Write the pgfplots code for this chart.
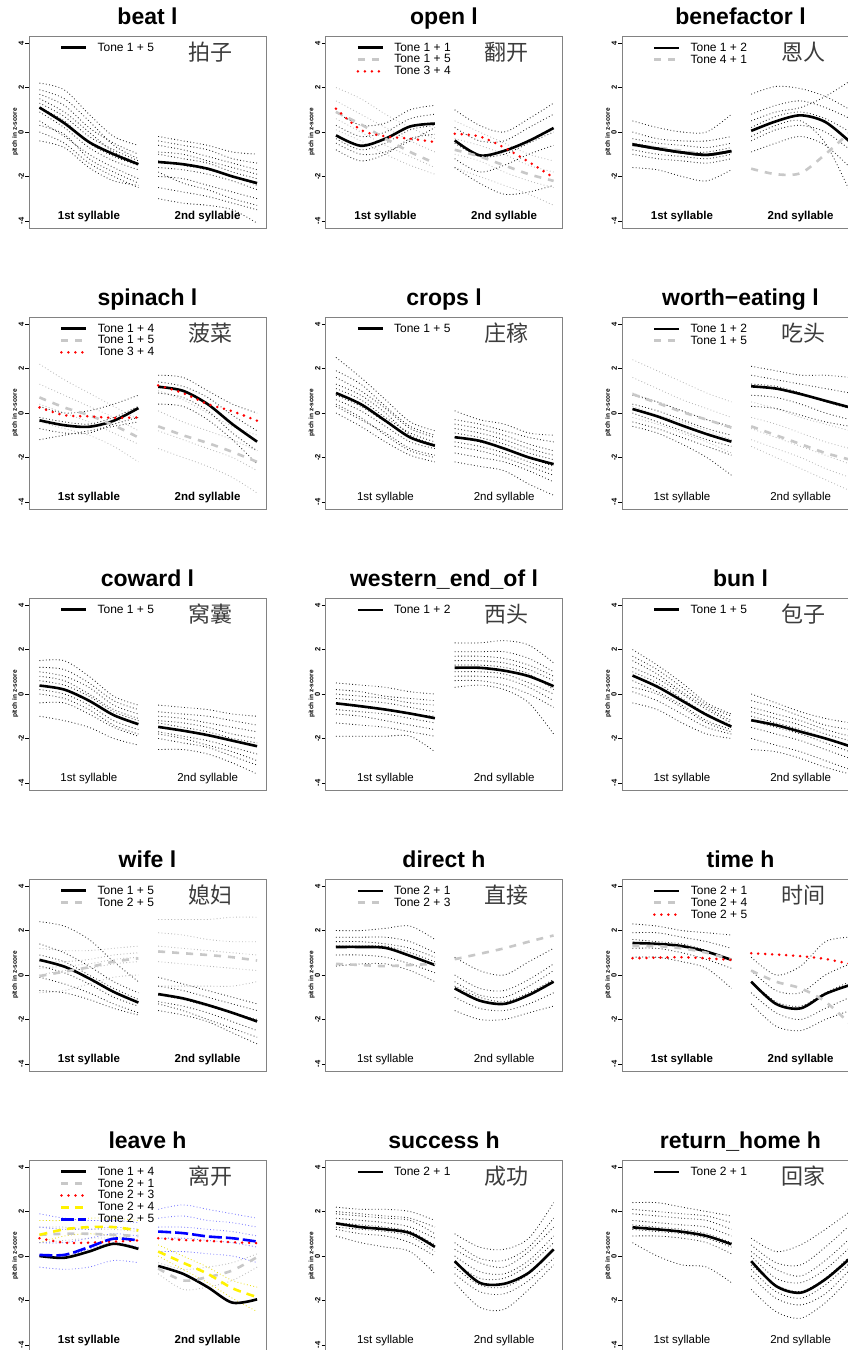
\documentclass[border=0pt]{standalone}
\usepackage{fontspec}
\setmainfont{Liberation Sans}
\newfontfamily\cjk{Noto Sans CJK SC}
\usepackage{pgfplots}
\usepackage{pgfplotstable}
\pgfplotsset{compat=1.18}

\definecolor{lg}{RGB}{200,200,200}
\definecolor{tg}{RGB}{185,185,185}
\definecolor{boxc}{RGB}{130,130,130}
\definecolor{cjkc}{RGB}{60,60,60}

\newcommand\mk[2]{\pgfplotstableread[row sep=\\]{n c1 c2 c3 c4 c5 c6 c7 c8 c9 c10\\ x 0 0.25 0.5 0.75 1 1.2 1.45 1.7 1.95 2.2\\ #2}\tmpT\pgfplotstabletranspose[colnames from=n]{#1}{\tmpT}}

% beat l
\mk{\TA}{a 1.1 0.4 -0.45 -1.0 -1.45 -1.35 -1.45 -1.65 -2.0 -2.3\\
k1 2.2 1.9 0.8 -0.2 -0.6 -0.2 -0.4 -0.6 -0.9 -1.0\\
k2 1.7 1.2 0.2 -0.5 -1.0 -0.6 -0.8 -1.1 -1.4 -1.7\\
k3 1.3 0.7 -0.2 -0.8 -1.3 -1.0 -1.2 -1.4 -1.8 -2.1\\
k4 0.9 0.2 -0.7 -1.3 -1.7 -1.6 -1.7 -1.9 -2.2 -2.6\\
k5 0.5 -0.2 -1.0 -1.6 -2.1 -2.0 -2.1 -2.4 -2.7 -3.0\\
k6 0.0 -0.5 -1.4 -2.0 -2.5 -2.5 -2.7 -2.9 -3.2 -3.5\\
k7 -0.4 -0.7 -1.6 -2.2 -2.4 -3.0 -3.2 -3.3 -3.5 -4.1\\
k8 1.9 1.5 0.5 -0.6 -1.2 -0.4 -0.6 -0.8 -1.2 -1.4\\
k9 1.1 0.5 -0.5 -1.1 -1.5 -1.3 -1.5 -1.7 -2.0 -2.4\\
k10 1.5 0.9 0.0 -0.9 -1.4 -0.9 -1.0 -1.3 -1.6 -1.9\\
k11 0.3 -0.1 -1.2 -1.8 -2.3 -1.8 -2.3 -2.6 -3.0 -3.3\\}
% open l
\mk{\TB}{a -0.15 -0.62 -0.3 0.25 0.38 -0.38 -1.05 -0.85 -0.4 0.18\\
b 0.9 0.35 -0.3 -0.9 -1.4 -0.8 -1.1 -1.5 -1.9 -2.2\\
c 1.05 0.1 -0.2 -0.3 -0.45 -0.08 -0.2 -0.7 -1.35 -2.05\\
k1 0.9 0.3 0.4 1.0 1.2 1.0 0.3 0.0 0.6 1.3\\
k2 0.3 -0.2 0.0 0.6 0.8 0.2 -0.4 -0.4 0.2 0.8\\
k3 -0.3 -0.8 -0.5 0.1 0.3 -0.5 -1.1 -1.0 -0.5 0.0\\
k4 -0.8 -1.3 -1.0 -0.3 -0.1 -1.2 -1.8 -1.5 -1.0 -0.6\\
k5 -0.5 -1.0 -0.9 -0.4 0.2 -1.6 -2.3 -2.8 -2.7 -2.4\\
g1 2.0 1.5 0.8 0.2 -0.3 0.5 0.0 -0.5 -1.0 -1.3\\
g2 1.4 0.8 0.2 -0.4 -0.9 -0.3 -0.6 -1.0 -1.5 -1.8\\
g3 0.6 0.0 -0.6 -1.1 -1.6 -1.0 -1.3 -1.8 -2.2 -2.5\\
g4 0.1 -0.4 -1.0 -1.5 -1.9 -1.6 -2.0 -2.4 -2.8 -3.3\\}
% benefactor l
\mk{\TC}{a -0.56 -0.75 -0.92 -1.03 -0.86 0.05 0.48 0.75 0.45 -0.45\\
b -0.6 -0.7 -0.85 -1.0 -0.9 -1.65 -1.9 -1.85 -1.0 0.0\\
k1 0.5 0.2 0.0 0.0 0.8 1.7 2.05 1.95 1.6 1.0\\
k2 0.0 -0.3 -0.4 -0.4 -0.2 0.8 1.2 1.4 1.1 0.6\\
k3 -0.5 -0.7 -0.9 -0.9 -0.7 0.2 0.7 0.9 0.6 0.0\\
k4 -1.0 -1.2 -1.3 -1.4 -1.2 -0.4 0.1 0.3 0.0 -0.8\\
k5 -1.6 -1.7 -2.0 -2.2 -1.7 -0.9 -0.5 -0.2 -0.6 -1.6\\
k6 -0.3 -0.5 -0.6 -0.7 -0.5 0.5 0.9 1.1 1.6 2.3\\
k7 -0.8 -1.0 -1.1 -1.2 -1.0 -0.2 0.3 0.5 -0.5 -2.7\\}
% spinach l
\mk{\TD}{a -0.33 -0.55 -0.62 -0.35 0.22 1.18 1.0 0.4 -0.5 -1.29\\
b 0.7 0.25 -0.1 -0.55 -1.1 -0.6 -1.0 -1.35 -1.75 -2.2\\
c 0.25 -0.1 -0.15 -0.22 -0.2 1.24 0.9 0.4 0.08 -0.35\\
k1 0.3 0.0 0.1 0.4 0.8 1.7 1.6 1.0 0.4 0.0\\
k2 -0.2 -0.4 -0.5 -0.2 0.3 1.4 1.2 0.7 -0.1 -0.8\\
k3 -0.7 -0.9 -0.9 -0.5 -0.2 0.9 0.7 0.1 -0.9 -1.7\\
k4 -1.2 -1.0 -0.8 -0.6 -0.4 0.4 0.3 -0.3 -1.2 -2.3\\
g1 2.2 1.5 0.9 0.3 -0.3 1.0 0.6 0.0 -0.6 -1.0\\
g2 1.3 0.8 0.3 -0.2 -0.8 0.1 -0.4 -0.8 -1.2 -1.7\\
g3 0.4 0.0 -0.4 -0.9 -1.4 -0.8 -1.2 -1.6 -2.0 -2.6\\
g4 -0.4 -0.7 -1.0 -1.5 -2.2 -1.6 -2.0 -2.4 -2.9 -3.6\\}
% crops l
\mk{\TE}{a 0.9 0.4 -0.35 -1.1 -1.47 -1.09 -1.25 -1.6 -2.0 -2.3\\
k1 2.5 1.6 0.6 -0.4 -0.8 0.1 -0.3 -0.5 -0.9 -1.0\\
k2 1.6 1.0 0.2 -0.7 -1.1 -0.5 -0.7 -1.0 -1.4 -1.7\\
k3 1.1 0.6 -0.2 -0.9 -1.3 -0.9 -1.1 -1.4 -1.8 -2.1\\
k4 0.6 0.1 -0.6 -1.3 -1.6 -1.3 -1.5 -1.8 -2.2 -2.6\\
k5 0.3 -0.3 -0.9 -1.6 -1.9 -1.8 -2.0 -2.2 -2.6 -3.1\\
k6 0.0 -0.6 -1.3 -1.9 -2.2 -2.2 -2.4 -2.6 -3.2 -3.7\\
k7 1.9 1.3 0.3 -0.6 -1.0 -0.7 -0.9 -1.2 -1.6 -1.9\\
k8 0.8 0.3 -0.4 -1.1 -1.5 -1.1 -1.3 -1.6 -2.0 -2.4\\
k9 1.3 0.8 0.0 -1.0 -1.4 -0.3 -0.5 -0.8 -1.1 -1.3\\
k10 0.4 -0.2 -1.0 -1.7 -2.0 -1.5 -1.7 -2.0 -2.4 -2.8\\}
% worth-eating l
\mk{\TF}{a 0.18 -0.15 -0.56 -0.95 -1.29 1.2 1.1 0.85 0.55 0.25\\
b 0.85 0.45 0.05 -0.3 -0.65 -0.6 -1.0 -1.4 -1.8 -2.1\\
k1 0.8 0.5 0.1 -0.3 -0.6 2.1 1.9 1.7 1.7 1.6\\
k2 0.4 0.1 -0.3 -0.7 -1.0 1.7 1.5 1.3 1.1 0.9\\
k3 0.0 -0.4 -0.8 -1.2 -1.5 1.3 1.2 0.9 0.5 0.2\\
k4 -0.4 -0.7 -1.1 -1.5 -1.9 0.8 0.7 0.4 0.0 -0.3\\
k5 -0.6 -0.9 -1.4 -2.0 -2.8 0.3 0.2 -0.1 -0.4 -0.6\\
g1 2.4 1.9 1.4 0.9 0.5 0.5 0.2 -0.2 -0.5 -0.8\\
g2 1.6 1.1 0.6 0.2 -0.2 -0.2 -0.5 -0.9 -1.3 -1.6\\
g3 0.9 0.5 0.1 -0.3 -0.7 -0.7 -1.1 -1.5 -1.9 -2.3\\
g4 0.3 -0.1 -0.4 -0.8 -1.2 -1.2 -1.6 -2.0 -2.5 -2.9\\
g5 -0.2 -0.5 -0.9 -1.3 -1.8 -1.5 -2.0 -2.5 -3.0 -3.5\\}
% coward l
\mk{\TG}{a 0.38 0.2 -0.3 -0.95 -1.36 -1.48 -1.65 -1.85 -2.1 -2.35\\
k1 1.5 1.5 0.8 -0.1 -0.5 -0.5 -0.6 -0.7 -0.9 -1.0\\
k2 1.0 0.8 0.3 -0.5 -0.9 -1.0 -1.1 -1.3 -1.5 -1.7\\
k3 0.6 0.4 -0.1 -0.8 -1.2 -1.3 -1.5 -1.7 -2.0 -2.2\\
k4 0.2 0.0 -0.5 -1.2 -1.6 -1.7 -1.9 -2.1 -2.4 -2.7\\
k5 -0.4 -0.4 -0.9 -1.5 -1.9 -2.0 -2.2 -2.4 -2.8 -3.2\\
k6 -1.0 -1.2 -1.5 -2.0 -2.3 -2.5 -2.5 -2.7 -3.1 -3.6\\
k7 1.2 1.1 0.5 -0.3 -0.7 -0.8 -0.9 -1.0 -1.2 -1.4\\
k8 0.8 0.6 0.0 -0.7 -1.1 -1.2 -1.3 -1.5 -1.8 -2.0\\
k9 0.0 -0.2 -0.7 -1.4 -1.8 -1.8 -2.0 -2.3 -2.6 -3.0\\}
% western_end_of l
\mk{\TH}{a -0.42 -0.55 -0.7 -0.88 -1.09 1.18 1.18 1.05 0.8 0.35\\
k1 0.5 0.4 0.3 0.1 0.0 2.3 2.3 2.4 2.2 1.4\\
k2 0.0 -0.1 -0.2 -0.4 -0.5 1.9 1.9 1.9 1.6 1.0\\
k3 -0.4 -0.6 -0.7 -0.9 -1.0 1.5 1.5 1.4 1.1 0.6\\
k4 -0.9 -1.0 -1.2 -1.4 -1.6 1.0 1.0 0.9 0.5 0.0\\
k5 -1.9 -1.9 -1.9 -1.9 -2.6 0.6 0.6 0.4 0.0 -0.6\\
k6 0.2 0.1 -0.1 -0.2 -0.3 0.3 0.4 0.2 -0.4 -1.8\\
k7 -1.3 -1.4 -1.5 -1.7 -1.9 1.3 1.3 1.2 0.9 0.2\\
k8 -0.2 -0.3 -0.4 -0.6 -0.8 1.7 1.7 1.6 1.3 0.8\\
k9 -0.7 -0.8 -0.9 -1.1 -1.3 0.8 0.8 0.7 0.3 -0.3\\}
% bun l
\mk{\TI}{a 0.83 0.33 -0.3 -0.94 -1.47 -1.18 -1.4 -1.7 -2.0 -2.35\\
k1 2.0 1.3 0.5 -0.4 -0.9 0.0 -0.4 -0.8 -1.1 -1.3\\
k2 1.5 0.9 0.1 -0.6 -1.2 -0.6 -0.9 -1.2 -1.6 -1.9\\
k3 1.0 0.5 -0.2 -0.9 -1.4 -1.0 -1.3 -1.6 -2.0 -2.4\\
k4 0.6 0.1 -0.5 -1.2 -1.6 -1.5 -1.8 -2.1 -2.5 -2.9\\
k5 0.1 -0.3 -0.9 -1.5 -1.8 -2.0 -2.3 -2.6 -3.0 -3.4\\
k6 -0.4 -0.7 -1.3 -1.8 -2.0 -2.5 -2.6 -2.9 -3.3 -3.6\\
k7 1.2 0.7 0.0 -0.7 -1.3 -0.8 -1.1 -1.4 -1.8 -2.1\\
k8 0.3 0.0 -0.6 -1.3 -1.7 -1.2 -1.5 -1.8 -2.2 -2.6\\
k9 1.7 1.1 0.3 -0.5 -1.0 -0.3 -0.6 -1.0 -1.4 -1.6\\}
% wife l
\mk{\TJ}{a 0.68 0.38 -0.15 -0.76 -1.24 -0.86 -1.05 -1.35 -1.7 -2.09\\
b -0.05 0.15 0.35 0.6 0.75 1.06 0.98 0.9 0.8 0.65\\
k1 2.4 2.2 1.6 0.6 -0.3 -0.1 -0.4 -0.7 -1.0 -1.3\\
k2 1.4 1.0 0.4 -0.3 -0.8 -0.5 -0.7 -1.0 -1.3 -1.6\\
k3 0.9 0.6 0.0 -0.6 -1.1 -0.9 -1.1 -1.4 -1.7 -2.0\\
k4 0.4 0.1 -0.4 -1.0 -1.4 -1.2 -1.4 -1.7 -2.1 -2.5\\
k5 -0.1 -0.4 -0.8 -1.3 -1.7 -1.6 -1.8 -2.1 -2.6 -3.1\\
k6 -0.7 -0.8 -1.1 -1.5 -1.8 -1.3 -1.6 -2.0 -2.4 -2.8\\
g1 1.2 1.1 1.1 1.2 1.3 2.5 2.5 2.5 2.6 2.6\\
g2 0.6 0.6 0.7 0.9 1.0 1.9 1.8 1.6 1.5 1.5\\
g3 0.0 0.2 0.3 0.5 0.6 1.3 1.2 1.1 1.0 0.9\\
g4 -0.8 -0.7 -0.4 -0.1 0.0 0.6 0.5 0.4 0.3 0.2\\
g5 0.3 0.4 0.5 0.7 0.8 -0.5 -0.5 -0.5 -0.5 -0.3\\}
% direct h
\mk{\TK}{a 1.26 1.26 1.22 0.86 0.45 -0.6 -1.15 -1.3 -0.9 -0.3\\
b 0.5 0.45 0.4 0.45 0.5 0.71 0.95 1.2 1.5 1.78\\
k1 2.0 2.0 2.1 2.2 1.6 0.8 0.2 0.0 0.6 1.2\\
k2 1.7 1.7 1.7 1.5 1.0 0.0 -0.6 -0.7 -0.2 0.5\\
k3 1.3 1.3 1.3 1.0 0.6 -0.5 -1.0 -1.2 -0.8 -0.2\\
k4 0.9 0.9 0.8 0.5 0.1 -1.0 -1.5 -1.6 -1.3 -0.8\\
k5 0.4 0.5 0.5 0.2 -0.3 -1.6 -2.0 -2.0 -1.7 -1.4\\
k6 1.5 1.5 1.4 1.2 0.8 -0.3 -0.9 -1.0 -0.5 0.2\\}
% time h
\mk{\TL}{a 1.44 1.4 1.3 1.05 0.68 -0.3 -1.3 -1.5 -0.85 -0.45\\
b 1.3 1.3 1.2 1.0 0.7 0.2 -0.3 -0.6 -1.2 -2.2\\
c 0.75 0.78 0.8 0.75 0.68 0.98 0.92 0.85 0.72 0.5\\
k1 2.3 2.2 2.0 1.9 1.8 0.8 0.0 0.4 1.5 1.7\\
k2 1.9 1.9 1.7 1.5 1.2 0.2 -0.7 -0.8 0.0 0.5\\
k3 1.6 1.5 1.4 1.1 0.7 -0.3 -1.2 -1.4 -0.8 -0.3\\
k4 1.2 1.2 1.0 0.7 0.3 -0.8 -1.7 -2.0 -1.5 -1.0\\
k5 0.8 0.8 0.6 0.3 -0.6 -1.3 -2.3 -2.5 -2.0 -1.6\\}
% leave h
\mk{\TM}{a 0.0 -0.08 0.2 0.55 0.32 -0.45 -0.8 -1.4 -2.1 -1.95\\
b 0.95 1.0 1.0 0.95 0.9 -0.56 -1.1 -0.95 -0.65 -0.05\\
c 0.8 0.6 0.6 0.65 0.7 0.8 0.72 0.68 0.62 0.58\\
d 0.95 1.2 1.3 1.3 1.15 0.2 -0.3 -0.8 -1.45 -1.85\\
e 0.05 0.05 0.4 0.78 0.7 1.1 1.03 0.88 0.8 0.65\\
b1 1.9 1.7 1.6 1.6 1.5 2.1 2.3 2.1 1.9 1.7\\
b2 1.3 1.2 1.2 1.3 1.2 1.7 1.8 1.6 1.5 1.3\\
b3 0.6 0.6 0.8 1.0 0.9 1.3 1.3 1.2 1.1 0.9\\
b4 0.0 0.0 0.3 0.6 0.4 0.8 0.8 0.7 0.6 0.4\\
b5 -0.5 -0.6 -0.5 -0.2 -0.3 0.2 0.2 0.1 0.0 -0.3\\
y1 1.6 1.6 1.7 1.7 1.6 0.5 0.0 -0.5 -1.1 -1.4\\
y2 0.6 0.9 1.0 0.9 0.7 0.0 -0.6 -1.2 -1.9 -2.5\\
g1 1.3 1.3 1.2 1.2 1.1 -0.3 -0.6 -0.5 -0.3 0.1\\
g2 0.6 0.7 0.8 0.8 0.7 -0.8 -1.5 -1.4 -1.1 -0.5\\}
% success h
\mk{\TN}{a 1.47 1.3 1.2 1.03 0.41 -0.23 -1.2 -1.25 -0.75 0.3\\
k1 2.2 2.1 2.1 2.0 1.6 1.0 0.4 0.3 0.8 2.4\\
k2 1.9 1.8 1.7 1.6 1.0 0.3 -0.3 -0.5 0.2 1.3\\
k3 1.5 1.4 1.3 1.1 0.5 -0.3 -1.0 -1.0 -0.4 0.6\\
k4 1.2 1.0 0.9 0.6 0.0 -0.8 -1.6 -1.7 -1.1 -0.1\\
k5 0.9 0.6 0.4 0.2 -0.8 -1.2 -2.3 -2.4 -1.5 -0.4\\
k6 1.7 1.6 1.5 1.3 0.8 0.0 -0.7 -0.8 -0.2 0.9\\
k7 1.3 1.2 1.1 0.9 0.2 -0.5 -1.3 -1.4 -0.8 0.3\\
k8 2.0 1.9 1.8 1.7 1.3 0.6 -0.1 -0.2 0.4 1.7\\}
% return_home h
\mk{\TO}{a 1.29 1.2 1.09 0.9 0.53 -0.23 -1.35 -1.65 -1.05 -0.1\\
k1 2.4 2.4 2.2 2.0 1.8 0.8 0.2 0.5 1.2 2.0\\
k2 1.9 1.8 1.7 1.6 1.2 0.2 -0.6 -0.9 -0.2 0.8\\
k3 1.4 1.3 1.2 1.0 0.6 -0.4 -1.3 -1.6 -1.0 0.0\\
k4 0.9 0.9 0.8 0.6 0.1 -0.9 -1.9 -2.2 -1.7 -0.6\\
k5 0.6 0.0 -0.4 -0.5 -1.2 -1.5 -2.5 -2.8 -2.1 -1.0\\
k6 1.6 1.5 1.4 1.3 0.9 0.0 -1.0 -1.2 -0.6 0.4\\
k7 1.2 1.1 1.0 0.8 0.4 -0.6 -1.6 -1.9 -1.3 -0.3\\
k8 2.1 2.0 1.9 1.8 1.5 0.5 -0.3 -0.4 0.4 1.4\\}

\pgfplotsset{
 panel/.style={
  scale only axis, width=237pt, height=192pt, anchor=north west,
  xmin=-0.106, xmax=2.29, ymin=-4.32, ymax=4.32,
  xtick=\empty, ytick={-4,-2,0,2,4},
  ytick pos=left, tick align=outside, major tick length=4pt,
  yticklabel style={rotate=90, anchor=south, font=\fontsize{7.5}{7.5}\selectfont\bfseries, inner sep=1pt},
  /pgf/number format/assume math mode=true,
  axis line style={boxc, line width=0.8pt},
  every tick/.style={black, line width=0.6pt},
  ylabel={pitch in z-score},
  ylabel style={font=\fontsize{6.5}{6.5}\selectfont\bfseries, at={(axis description cs:-0.058,0.5)}, anchor=center},
  title style={font=\fontsize{23}{23}\selectfont\bfseries, at={(axis description cs:0.5,1)}, anchor=base, yshift=5pt},
  legend style={at={(axis description cs:0.13,0.965)}, anchor=north west, draw=none, fill=none,
    font=\fontsize{12}{12}\selectfont, row sep=2pt, inner sep=0pt, nodes={inner sep=0pt},
    /tikz/every odd column/.append style={column sep=10pt}},
  legend cell align=left,
  legend image code/.code={\draw[##1] (0pt,0pt) -- (25pt,0pt);},
 },
 trK/.style={forget plot, smooth, black!85, line width=0.85pt, dash pattern=on 0.85pt off 2.4pt},
 trG/.style={trK, color=tg},
 trB/.style={trK, color=blue!55},
 trY/.style={trK, color=yellow!90!black},
 mK/.style={smooth, black, line width=2.6pt},
 mG/.style={smooth, lg, line width=2.6pt, dash pattern=on 7pt off 7pt},
 mR/.style={smooth, red, line width=2.8pt, line cap=round, dash pattern=on 0pt off 7pt},
 mY/.style={smooth, yellow, line width=2.6pt, dash pattern=on 8pt off 6pt},
 mB/.style={smooth, blue, line width=2.6pt, dash pattern=on 13pt off 4pt},
}

\newcommand\tr[3]{\pgfplotsinvokeforeach{#3}{%
 \addplot[#2,restrict x to domain=-0.5:1.1] table[x=x,y=##1]{#1};
 \addplot[#2,restrict x to domain=1.1:2.5] table[x=x,y=##1]{#1};}}
\newcommand\mn[4]{%
 \addplot[#2,restrict x to domain=-0.5:1.1] table[x=x,y=#3]{#1};\addlegendentry{#4}
 \addplot[#2,forget plot,restrict x to domain=1.1:2.5] table[x=x,y=#3]{#1};}
\newcommand\lab[2]{%
 \node[font=\fontsize{11.5}{11.5}\selectfont#1] at (axis cs:0.5,-3.82) {1st syllable};
 \node[font=\fontsize{11.5}{11.5}\selectfont#1] at (axis cs:1.7,-3.82) {2nd syllable};
 \node[font=\cjk\fontsize{22}{22}\selectfont, text=cjkc] at (rel axis cs:0.765,0.915) {#2};}

\begin{document}
\begin{tikzpicture}
\path[use as bounding box] (0pt,0pt) rectangle (848pt,1350pt);
\clip (0pt,0pt) rectangle (848pt,1350pt);

% ---------- row 1
\begin{axis}[panel, at={(29pt,1314pt)}, title={beat l}]
\tr{\TA}{trK}{k1,k2,k3,k4,k5,k6,k7,k8,k9,k10,k11}
\mn{\TA}{mK}{a}{Tone 1 + 5}
\lab{\bfseries}{拍子}
\end{axis}

\begin{axis}[panel, at={(325.5pt,1314pt)}, title={open l}]
\tr{\TB}{trG}{g1,g2,g3,g4}
\tr{\TB}{trK}{k1,k2,k3,k4,k5}
\mn{\TB}{mK}{a}{Tone 1 + 1}
\mn{\TB}{mG}{b}{Tone 1 + 5}
\mn{\TB}{mR}{c}{Tone 3 + 4}
\lab{\bfseries}{翻开}
\end{axis}

\begin{axis}[panel, at={(622pt,1314pt)}, title={benefactor l}]
\tr{\TC}{trK}{k1,k2,k3,k4,k5,k6,k7}
\mn{\TC}{mK}{a}{Tone 1 + 2}
\mn{\TC}{mG}{b}{Tone 4 + 1}
\addplot[mK,forget plot,restrict x to domain=-0.5:1.1] table[x=x,y=a]{\TC};
\lab{\bfseries}{恩人}
\end{axis}

% ---------- row 2
\begin{axis}[panel, at={(29pt,1033pt)}, title={spinach l}]
\tr{\TD}{trG}{g1,g2,g3,g4}
\tr{\TD}{trK}{k1,k2,k3,k4}
\mn{\TD}{mK}{a}{Tone 1 + 4}
\mn{\TD}{mG}{b}{Tone 1 + 5}
\mn{\TD}{mR}{c}{Tone 3 + 4}
\lab{\bfseries}{菠菜}
\end{axis}

\begin{axis}[panel, at={(325.5pt,1033pt)}, title={crops l}]
\tr{\TE}{trK}{k1,k2,k3,k4,k5,k6,k7,k8,k9,k10}
\mn{\TE}{mK}{a}{Tone 1 + 5}
\lab{}{庄稼}
\end{axis}

\begin{axis}[panel, at={(622pt,1033pt)}, title={worth−eating l}]
\tr{\TF}{trG}{g1,g2,g3,g4,g5}
\tr{\TF}{trK}{k1,k2,k3,k4,k5}
\mn{\TF}{mK}{a}{Tone 1 + 2}
\mn{\TF}{mG}{b}{Tone 1 + 5}
\lab{}{吃头}
\end{axis}

% ---------- row 3
\begin{axis}[panel, at={(29pt,752pt)}, title={coward l}]
\tr{\TG}{trK}{k1,k2,k3,k4,k5,k6,k7,k8,k9}
\mn{\TG}{mK}{a}{Tone 1 + 5}
\lab{}{窝囊}
\end{axis}

\begin{axis}[panel, at={(325.5pt,752pt)}, title={western\_end\_of l}]
\tr{\TH}{trK}{k1,k2,k3,k4,k5,k6,k7,k8,k9}
\mn{\TH}{mK}{a}{Tone 1 + 2}
\lab{}{西头}
\end{axis}

\begin{axis}[panel, at={(622pt,752pt)}, title={bun l}]
\tr{\TI}{trK}{k1,k2,k3,k4,k5,k6,k7,k8,k9}
\mn{\TI}{mK}{a}{Tone 1 + 5}
\lab{}{包子}
\end{axis}

% ---------- row 4
\begin{axis}[panel, at={(29pt,471pt)}, title={wife l}]
\tr{\TJ}{trG}{g1,g2,g3,g4,g5}
\tr{\TJ}{trK}{k1,k2,k3,k4,k5,k6}
\mn{\TJ}{mK}{a}{Tone 1 + 5}
\mn{\TJ}{mG}{b}{Tone 2 + 5}
\lab{\bfseries}{媳妇}
\end{axis}

\begin{axis}[panel, at={(325.5pt,471pt)}, title={direct h}]
\tr{\TK}{trK}{k1,k2,k3,k4,k5,k6}
\mn{\TK}{mK}{a}{Tone 2 + 1}
\mn{\TK}{mG}{b}{Tone 2 + 3}
\lab{}{直接}
\end{axis}

\begin{axis}[panel, at={(622pt,471pt)}, title={time h}]
\tr{\TL}{trK}{k1,k2,k3,k4,k5}
\mn{\TL}{mK}{a}{Tone 2 + 1}
\mn{\TL}{mG}{b}{Tone 2 + 4}
\mn{\TL}{mR}{c}{Tone 2 + 5}
\lab{\bfseries}{时间}
\end{axis}

% ---------- row 5
\begin{axis}[panel, at={(29pt,190pt)}, title={leave h}]
\tr{\TM}{trG}{g1,g2}
\tr{\TM}{trY}{y1,y2}
\tr{\TM}{trB}{b1,b2,b3,b4,b5}
\mn{\TM}{mK}{a}{Tone 1 + 4}
\mn{\TM}{mG}{b}{Tone 2 + 1}
\mn{\TM}{mR}{c}{Tone 2 + 3}
\mn{\TM}{mY}{d}{Tone 2 + 4}
\mn{\TM}{mB}{e}{Tone 2 + 5}
\lab{\bfseries}{离开}
\end{axis}

\begin{axis}[panel, at={(325.5pt,190pt)}, title={success h}]
\tr{\TN}{trK}{k1,k2,k3,k4,k5,k6,k7,k8}
\mn{\TN}{mK}{a}{Tone 2 + 1}
\lab{}{成功}
\end{axis}

\begin{axis}[panel, at={(622pt,190pt)}, title={return\_home h}]
\tr{\TO}{trK}{k1,k2,k3,k4,k5,k6,k7,k8}
\mn{\TO}{mK}{a}{Tone 2 + 1}
\lab{}{回家}
\end{axis}
\end{tikzpicture}
\end{document}
